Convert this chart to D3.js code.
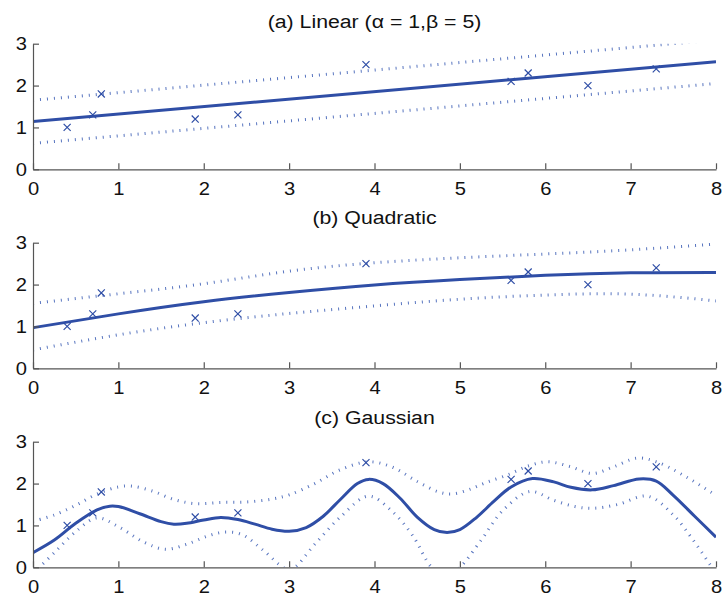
<!DOCTYPE html>
<html>
<head>
<meta charset="utf-8">
<script src="https://cdn.jsdelivr.net/npm/d3@7"></script>
<style>
  html, body { margin: 0; padding: 0; background: #fff; }
  svg { display: block; font-family: "Liberation Sans", Arial, Helvetica, sans-serif; }
</style>
</head>
<body>
<svg id="chart" width="725" height="598"></svg>
<script>
// ---------- data ----------
const titles = ["(a) Linear (\u03B1 = 1,\u03B2 = 5)", "(b) Quadratic", "(c) Gaussian"];
const xTicks = [0, 1, 2, 3, 4, 5, 6, 7, 8];
const yTicks = [0, 1, 2, 3];

// observations (crosses)
const obsX = [0.4, 0.7, 0.8, 1.9, 2.4, 3.9, 5.6, 5.8, 6.5, 7.3];
const obsY = [1.0, 1.3, 1.8, 1.2, 1.3, 2.5, 2.1, 2.3, 2.0, 2.4];

// (a) linear
const linX     = [0, 8];
const linMean  = [1.14, 2.57];
const linUpper = [1.65, 3.09];
const linLower = [0.62, 2.05];

// (b) quadratic
const quadX     = [0, 1, 2, 3, 4, 5, 6, 7, 8];
const quadMean  = [0.97, 1.30, 1.59, 1.81, 1.99, 2.12, 2.22, 2.28, 2.29];
const quadUpper = [1.55, 1.78, 2.02, 2.32, 2.52, 2.64, 2.73, 2.83, 2.97];
const quadLower = [0.44, 0.80, 1.09, 1.31, 1.49, 1.65, 1.75, 1.77, 1.61];

// (c) gaussian
const gMeanX = [0, 0.25, 0.5, 0.75, 0.9, 1.0, 1.25, 1.5, 1.65, 1.8, 2.0, 2.2, 2.4, 2.6, 2.8, 3.0, 3.2, 3.4, 3.6, 3.8, 3.93, 4.1, 4.3, 4.5, 4.7, 4.85, 5.0, 5.2, 5.4, 5.6, 5.85, 6.1, 6.3, 6.55, 6.8, 7.1, 7.3, 7.5, 7.75, 8.0];
const gMean  = [0.35, 0.65, 1.05, 1.37, 1.46, 1.45, 1.28, 1.09, 1.03, 1.05, 1.13, 1.19, 1.14, 1.03, 0.91, 0.86, 0.95, 1.22, 1.62, 2.00, 2.10, 2.00, 1.65, 1.20, 0.90, 0.83, 0.90, 1.20, 1.58, 1.92, 2.12, 2.04, 1.91, 1.85, 1.95, 2.11, 2.06, 1.72, 1.22, 0.72];

const gUpperX = [0, 0.25, 0.5, 0.75, 1.0, 1.15, 1.4, 1.65, 1.9, 2.2, 2.5, 2.8, 3.0, 3.3, 3.6, 3.93, 4.2, 4.5, 4.75, 4.9, 5.1, 5.3, 5.55, 5.8, 6.03, 6.3, 6.55, 6.8, 7.08, 7.3, 7.6, 8.0];
const gUpper  = [1.10, 1.25, 1.48, 1.75, 1.92, 1.94, 1.82, 1.62, 1.52, 1.55, 1.56, 1.63, 1.73, 2.00, 2.33, 2.52, 2.40, 2.05, 1.80, 1.75, 1.85, 2.02, 2.20, 2.42, 2.52, 2.40, 2.24, 2.40, 2.61, 2.52, 2.22, 1.72];

const gLowerX = [0, 0.25, 0.5, 0.75, 1.0, 1.3, 1.55, 1.8, 2.05, 2.25, 2.45, 2.7, 2.95, 3.05, 3.3, 3.6, 3.93, 4.2, 4.45, 4.67, 4.85, 5.0, 5.25, 5.5, 5.82, 6.1, 6.35, 6.56, 6.85, 7.2, 7.5, 7.75, 8.0];
const gLower  = [-0.15, 0.35, 0.85, 1.18, 0.97, 0.60, 0.43, 0.55, 0.75, 0.84, 0.78, 0.40, -0.02, -0.02, 0.55, 1.20, 1.70, 1.35, 0.75, 0.00, -0.20, 0.00, 0.65, 1.35, 1.81, 1.60, 1.45, 1.41, 1.50, 1.70, 1.25, 0.60, -0.15];

// ---------- drawing ----------
const svg = d3.select("#chart");
const left = 33, right = 716;
const panels = [
  { top: 43.7, bottom: 169.3, titleY: 28,
    mean: [linX, linMean, d3.curveLinear], upper: [linX, linUpper, d3.curveLinear], lower: [linX, linLower, d3.curveLinear] },
  { top: 242.7, bottom: 368.3, titleY: 223.5,
    mean: [quadX, quadMean, d3.curveNatural], upper: [quadX, quadUpper, d3.curveNatural], lower: [quadX, quadLower, d3.curveNatural] },
  { top: 441.7, bottom: 567.3, titleY: 423.5,
    mean: [gMeanX, gMean, d3.curveCatmullRom.alpha(0.5)], upper: [gUpperX, gUpper, d3.curveCatmullRom.alpha(0.5)], lower: [gLowerX, gLower, d3.curveCatmullRom.alpha(0.5)] }
];

const blue = "#2f4ea6";
const dotBlue = "#3a5cb4";
const sx = 1.12; // horizontal stretch of the text

panels.forEach((p, i) => {
  const x = d3.scaleLinear().domain([0, 8]).range([left, right]);
  const y = d3.scaleLinear().domain([0, 3]).range([p.bottom, p.top]);

  const clipId = "clip" + i;
  svg.append("clipPath").attr("id", clipId)
    .append("rect").attr("x", left).attr("y", p.top).attr("width", right - left).attr("height", p.bottom - p.top);

  const g = svg.append("g");

  // title
  g.append("text")
    .attr("transform", `translate(${(left + right) / 2},${p.titleY}) scale(${sx},1)`)
    .attr("text-anchor", "middle")
    .attr("font-size", 19)
    .attr("fill", "#111")
    .text(titles[i]);

  const plot = g.append("g").attr("clip-path", `url(#${clipId})`);

  const mk = (arr) => arr[0].map((xv, k) => [xv, arr[1][k]]);
  const lineGen = (curve) => d3.line().x(d => x(d[0])).y(d => y(d[1])).curve(curve);

  [p.upper, p.lower].forEach(b => {
    plot.append("path")
      .attr("d", lineGen(b[2])(mk(b)))
      .attr("fill", "none")
      .attr("stroke", dotBlue)
      .attr("stroke-width", 3)
      .attr("stroke-dasharray", "1,6")
      .attr("stroke-opacity", 0.85);
  });

  plot.append("path")
    .attr("d", lineGen(p.mean[2])(mk(p.mean)))
    .attr("fill", "none")
    .attr("stroke", blue)
    .attr("stroke-width", 3)
    .attr("stroke-linejoin", "round");

  // crosses
  const sym = d3.symbol().type(d3.symbolX).size(34);
  g.selectAll("path.obs").data(obsX.map((xv, k) => [xv, obsY[k]])).enter()
    .append("path").attr("class", "obs")
    .attr("transform", d => `translate(${x(d[0])},${y(d[1])})`)
    .attr("d", sym)
    .attr("fill", "none")
    .attr("stroke", blue)
    .attr("stroke-width", 1.2);

  // axes
  const xAxis = d3.axisBottom(x).tickValues(xTicks).tickFormat(d3.format("d"))
    .tickSizeInner(-6).tickSizeOuter(0).tickPadding(13);
  const yAxis = d3.axisLeft(y).tickValues(yTicks).tickFormat(d3.format("d"))
    .tickSizeInner(-6).tickSizeOuter(0).tickPadding(6);

  const gx = g.append("g").attr("transform", `translate(0,${p.bottom})`).call(xAxis);
  const gy = g.append("g").attr("transform", `translate(${left},0)`).call(yAxis);

  [gx, gy].forEach(a => {
    a.select(".domain").attr("stroke", "#555").attr("stroke-width", 1.2);
    a.selectAll(".tick line").attr("stroke", "#555").attr("stroke-width", 1.2);
    a.selectAll(".tick text").attr("font-size", 18).attr("fill", "#111")
      .attr("font-family", "'Liberation Sans', Arial, Helvetica, sans-serif");
  });
  gx.selectAll(".tick text").attr("transform", `scale(${sx},1)`);
  gy.selectAll(".tick text").attr("transform", `scale(${sx},1)`).attr("x", -6 / sx);
});
</script>
</body>
</html>
